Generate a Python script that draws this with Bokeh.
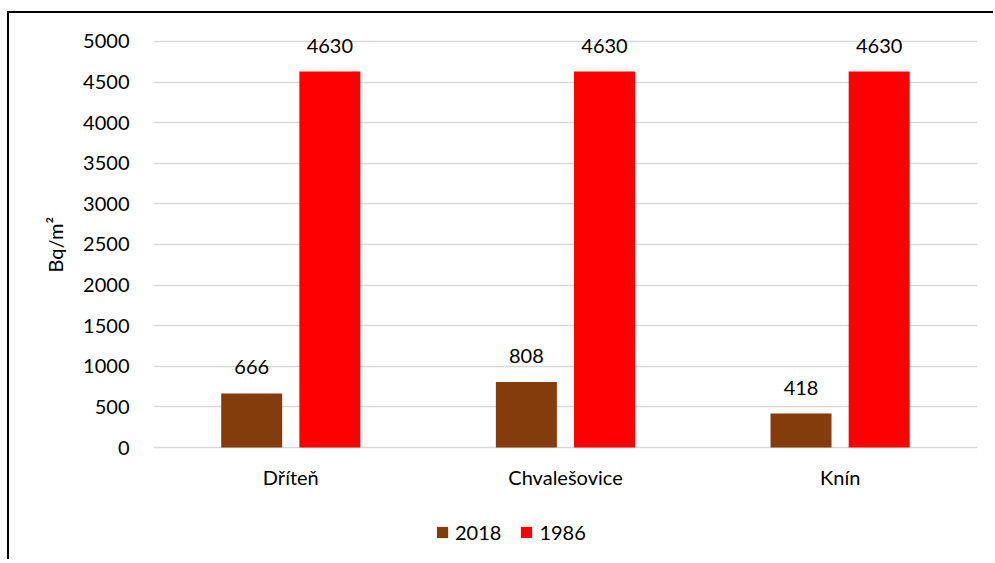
from bokeh.plotting import figure
from bokeh.models import ColumnDataSource, LabelSet, Legend, LegendItem, FactorRange, FixedTicker, Title
from bokeh.core.properties import value
from bokeh.transform import dodge
from bokeh.embed import file_html
from bokeh.resources import INLINE

sites = ["Dříteň", "Chvalešovice", "Knín"]
values_2018 = [666, 808, 418]
values_1986 = [4630, 4630, 4630]
series = ["2018", "1986"]
colors = ["#843C0C", "#FF0000"]
y_ticks = list(range(0, 5001, 500))
y_title = "Bq/m²"

FONT = "Lato"

src = ColumnDataSource(dict(
    site=sites,
    v2018=values_2018,
    v1986=values_1986,
    t2018=[str(v) for v in values_2018],
    t1986=[str(v) for v in values_1986],
))

# frame extends below zero (legend sits inside it, under the category labels)
# and a little above the top tick (so the value labels are not clipped)
p = figure(x_range=FactorRange(*sites), y_range=(-1342, 5246),
           width=986, height=548, output_backend="svg", toolbar_location=None,
           min_border_left=144, min_border_right=18, min_border_top=8, min_border_bottom=5)
p.outline_line_color = None
p.styles = {"border-top": "2px solid black", "border-left": "2px solid black",
            "margin-left": "7px", "margin-top": "11px"}

r1 = p.vbar(x=dodge("site", -0.1425, range=p.x_range), top="v2018", width=0.222,
            source=src, fill_color=colors[0], line_color=None)
r2 = p.vbar(x=dodge("site", 0.142, range=p.x_range), top="v1986", width=0.222,
            source=src, fill_color=colors[1], line_color=None)

for col, off in (("2018", -0.1425), ("1986", 0.142)):
    p.add_layout(LabelSet(x=dodge("site", off, range=p.x_range), y="v" + col, text="t" + col,
                          source=src, text_align="center", text_baseline="alphabetic", y_offset=19,
                          text_font=value(FONT), text_font_size="20px", text_color="#000000"))

p.yaxis.ticker = FixedTicker(ticks=y_ticks)
p.yaxis.major_label_text_font = FONT
p.yaxis.major_label_text_font_size = "20px"
p.yaxis.major_label_text_color = "#000000"
p.yaxis.major_label_standoff = 18
p.yaxis.axis_line_color = None
p.yaxis.major_tick_line_color = None
p.yaxis.minor_tick_line_color = None

ytitle = Title(text=y_title, align="left", offset=284, standoff=28,
               text_font=FONT, text_font_size="20px", text_font_style="normal",
               text_color="#000000")
p.add_layout(ytitle, "left")

p.xaxis.fixed_location = 0
p.xaxis.major_label_text_font = FONT
p.xaxis.major_label_text_font_size = "20px"
p.xaxis.major_label_text_color = "#000000"
p.xaxis.major_label_standoff = 11
p.xaxis.axis_line_color = None
p.xaxis.major_tick_line_color = None
p.xaxis.minor_tick_line_color = None

p.xgrid.grid_line_color = None
p.ygrid.grid_line_color = "#D9D9D9"
p.ygrid.grid_line_width = 1.5

legend = Legend(items=[LegendItem(label=series[0], renderers=[r1]),
                       LegendItem(label=series[1], renderers=[r2])],
                orientation="horizontal", location=(282, 12),
                label_text_font=FONT, label_text_font_size="20px", label_text_color="#000000",
                glyph_width=14, glyph_height=14, label_standoff=6, spacing=18,
                border_line_color=None, background_fill_alpha=0, padding=0, margin=0)
p.add_layout(legend)

open("out.html", "w").write(file_html(p, INLINE))
